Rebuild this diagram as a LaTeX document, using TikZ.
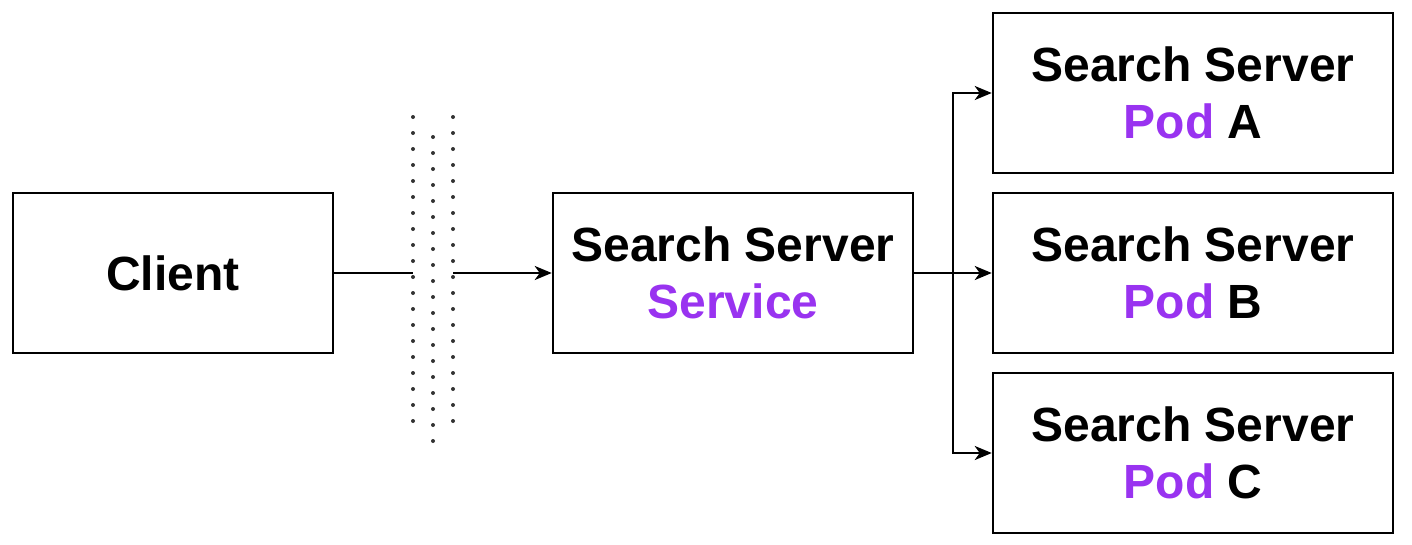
\documentclass[tikz,border=0pt]{standalone}
\usepackage{fontspec}
\setmainfont{Liberation Sans}
\usetikzlibrary{arrows.meta}
\definecolor{podpurple}{RGB}{153,51,240}
\tikzset{
  box/.style={draw=black, line width=2.5pt, minimum width=#1, minimum height=160pt, inner sep=0pt, align=center, font=\fontsize{48}{57}\selectfont\bfseries},
  conn/.style={draw=black, line width=2.5pt},
  arr/.style={conn, -{Stealth[length=17pt, width=14pt, inset=5pt]}},
  dots/.style={draw=black!80, line width=4pt, line cap=round, dash pattern=on 0pt off 16pt}
}
\begin{document}
\begin{tikzpicture}[x=1pt,y=-1pt]
\useasboundingbox (0,0) rectangle (1412,544);
\node[box=320pt] (client) at (173,273) {Client};
\node[box=360pt] (svc) at (733,273) {Search Server\\\textcolor{podpurple}{Service}};
\node[box=400pt] (pa) at (1193,93) {Search Server\\\textcolor{podpurple}{Pod} A};
\node[box=400pt] (pb) at (1193,273) {Search Server\\\textcolor{podpurple}{Pod} B};
\node[box=400pt] (pc) at (1193,453) {Search Server\\\textcolor{podpurple}{Pod} C};
\coordinate (d1t) at (413,117); \coordinate (d1b) at (413,425);
\coordinate (d2t) at (433,137); \coordinate (d2b) at (433,445);
\coordinate (d3t) at (453,117); \coordinate (d3b) at (453,425);
\draw[dots] (d1t) -- (d1b);
\draw[dots] (d2t) -- (d2b);
\draw[dots] (d3t) -- (d3b);
\coordinate (gapL) at (413,273);
\coordinate (gapR) at (453,273);
\draw[conn] (client.east) -- (gapL);
\draw[arr] (gapR) -- (svc.west);
\coordinate (br) at (953,273);
\draw[arr] (svc.east) -- (pb.west);
\draw[arr] (br) |- (pa.west);
\draw[arr] (br) |- (pc.west);
\end{tikzpicture}
\end{document}
